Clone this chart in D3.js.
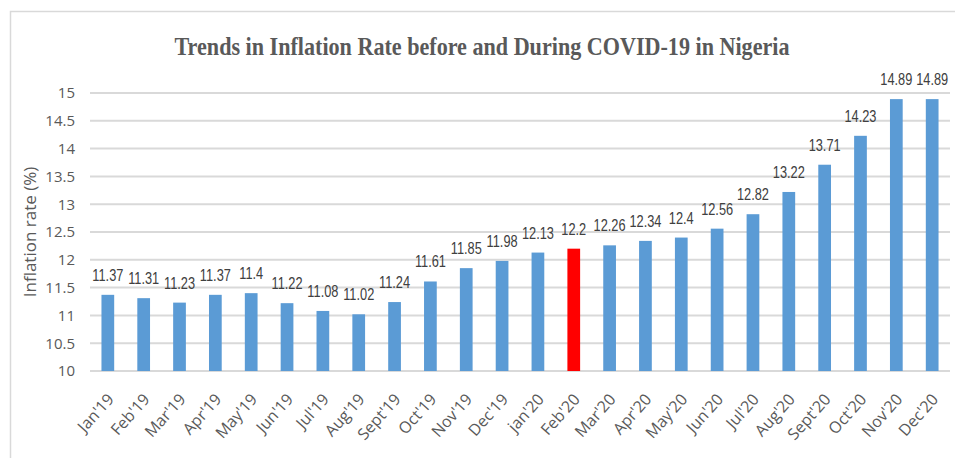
<!DOCTYPE html>
<html>
<head>
<meta charset="utf-8">
<script src="https://cdn.jsdelivr.net/npm/d3@7"></script>
<style>
  body { margin: 0; background: #fff; }
</style>
</head>
<body>
<div id="chart"></div>
<script>
var width = 955,
    height = 458;

var months = ["Jan'19", "Feb'19", "Mar'19", "Apr'19", "May'19", "Jun'19", "Jul'19", "Aug'19",
    "Sept'19", "Oct'19", "Nov'19", "Dec'19", "jan'20", "Feb'20", "Mar'20", "Apr'20", "May'20",
    "Jun'20", "Jul'20", "Aug'20", "Sept'20", "Oct'20", "Nov'20", "Dec'20"];
var rates = [11.37, 11.31, 11.23, 11.37, 11.4, 11.22, 11.08, 11.02, 11.24, 11.61, 11.85, 11.98,
    12.13, 12.2, 12.26, 12.34, 12.4, 12.56, 12.82, 13.22, 13.71, 14.23, 14.89, 14.89];
var highlight = ["Feb'20"];
var yTicks = [10, 10.5, 11, 11.5, 12, 12.5, 13, 13.5, 14, 14.5, 15];

var margin = { top: 93, right: 5, bottom: 87, left: 90 };

var svg = d3.select("#chart").append("svg")
    .attr("width", width)
    .attr("height", height);

// chart frame
svg.append("rect")
    .attr("x", 10.5).attr("y", 11.5)
    .attr("width", 960).attr("height", 470)
    .attr("fill", "none")
    .attr("stroke", "#d9d9d9")
    .attr("stroke-width", 1.5);

var x = d3.scaleBand()
    .domain(months)
    .range([margin.left, width - margin.right])
    .paddingInner(0.645)
    .paddingOuter(0.32);

var y = d3.scaleLinear()
    .domain([10, 15])
    .range([height - margin.bottom, margin.top]);

// gridlines
svg.append("g")
    .selectAll("line")
    .data(yTicks)
    .join("line")
    .attr("x1", margin.left)
    .attr("x2", width - margin.right)
    .attr("y1", d => y(d))
    .attr("y2", d => y(d))
    .attr("stroke", "#d9d9d9")
    .attr("stroke-width", 2);

// y axis labels
var yAxis = svg.append("g")
    .attr("transform", `translate(${margin.left},0)`)
    .call(d3.axisLeft(y).tickValues(yTicks).tickSize(0).tickPadding(15).tickFormat(d3.format("")));
yAxis.select(".domain").remove();
yAxis.selectAll("text")
    .attr("font-family", "'Open Sans', 'Liberation Sans', sans-serif")
    .attr("font-size", 15)
    .attr("fill", "#595959");

// bars
svg.append("g")
    .selectAll("rect")
    .data(months)
    .join("rect")
    .attr("x", d => x(d))
    .attr("width", x.bandwidth())
    .attr("y", (d, i) => y(rates[i]))
    .attr("height", (d, i) => y(10) - y(rates[i]))
    .attr("fill", d => highlight.includes(d) ? "#ff0000" : "#5b9bd5");

// value labels (condensed look)
svg.append("g")
    .selectAll("text")
    .data(months)
    .join("text")
    .attr("transform", (d, i) => `translate(${x(d) + x.bandwidth() / 2},${y(rates[i]) - 14}) scale(0.8,1)`)
    .attr("text-anchor", "middle")
    .attr("font-family", "'Liberation Sans', sans-serif")
    .attr("font-size", 16)
    .attr("fill", "#404040")
    .text((d, i) => rates[i]);

// x axis labels
var xAxis = svg.append("g")
    .attr("transform", `translate(0,${y(10)})`)
    .call(d3.axisBottom(x).tickSize(0).tickPadding(0));
xAxis.select(".domain").remove();
xAxis.selectAll("text")
    .attr("font-family", "'Open Sans', 'Liberation Sans', sans-serif")
    .attr("font-size", 16)
    .attr("fill", "#595959")
    .attr("text-anchor", "end")
    .attr("dy", null)
    .attr("transform", "translate(7,29) rotate(-48)");

// y axis title
svg.append("text")
    .attr("transform", "translate(36,232) rotate(-90)")
    .attr("text-anchor", "middle")
    .attr("font-family", "'Open Sans', 'Liberation Sans', sans-serif")
    .attr("font-size", 17)
    .attr("fill", "#595959")
    .text("Inflation rate (%)");

// title
svg.append("text")
    .attr("x", 482)
    .attr("y", 55)
    .attr("text-anchor", "middle")
    .attr("font-family", "'Liberation Serif', 'Times New Roman', serif")
    .attr("font-weight", "bold")
    .attr("font-size", 25)
    .attr("fill", "#595959")
    .attr("textLength", 615)
    .attr("lengthAdjust", "spacingAndGlyphs")
    .text("Trends in Inflation Rate before and During COVID-19 in Nigeria");
</script>
</body>
</html>
